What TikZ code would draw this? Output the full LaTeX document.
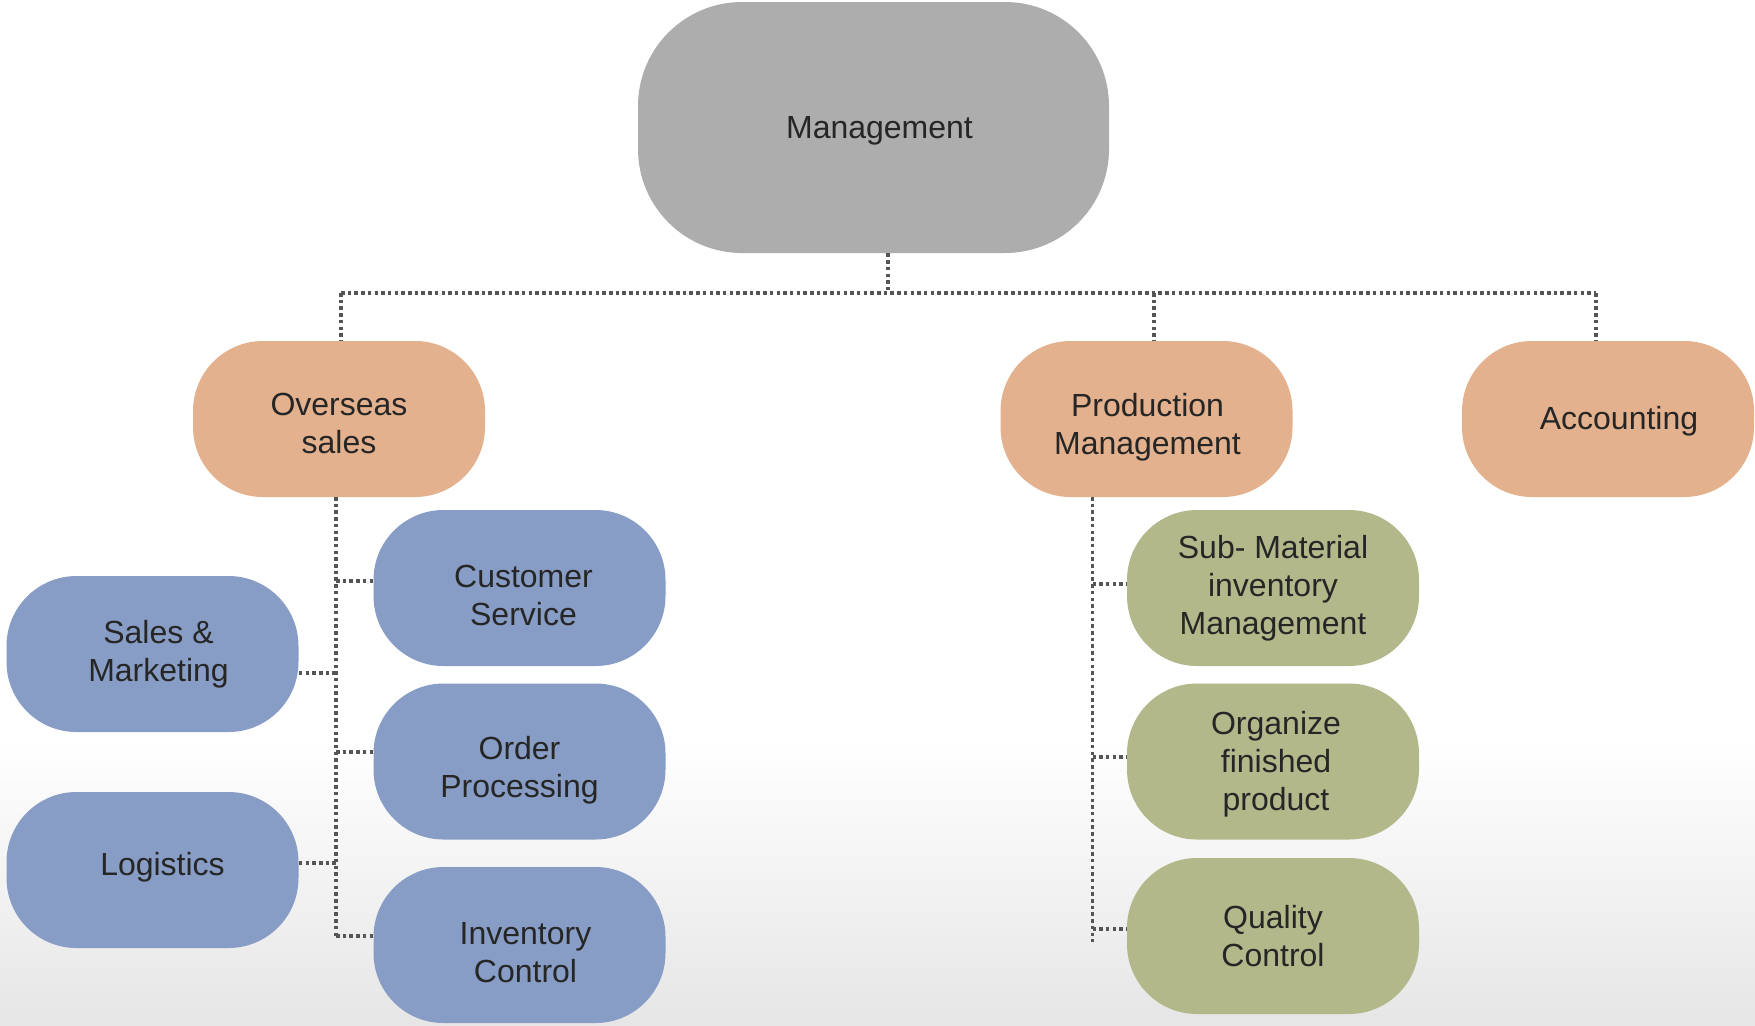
\documentclass[tikz,border=0pt]{standalone}
\usepackage{fontspec}
\setmainfont{Liberation Sans}
\begin{document}
\begin{tikzpicture}[x=0.5pt,y=-0.5pt,
  box/.style={rectangle, rounded corners=35pt, minimum width=146pt, minimum height=78pt, inner sep=0pt},
  lbl/.style={align=center, inner sep=0pt, text=txt, font=\fontsize{16}{19}\selectfont},
  grayb/.style={box, fill=mgray, rounded corners=52pt, minimum width=235.5pt, minimum height=125.5pt},
  orb/.style={box, fill=morange},
  blb/.style={box, fill=mblue},
  grb/.style={box, fill=mgreen},
  conn/.style={draw=lgray, line width=1.75pt, dash pattern=on 1.75pt off 1.6pt}
]
\definecolor{mgray}{HTML}{ADADAD}
\definecolor{morange}{HTML}{E3B18D}
\definecolor{mblue}{HTML}{889DC5}
\definecolor{mgreen}{HTML}{B3B88B}
\definecolor{txt}{HTML}{262626}
\definecolor{lgray}{HTML}{555555}
% background
\fill[white] (0,0) rectangle (1755,1025);
\shade[top color=white, bottom color=black!10] (0,740) rectangle (1755,1025);
\useasboundingbox (0,0) rectangle (1755,1025);

% boxes
\node[grayb] (mgmt) at (873.5,127.5) {};
\node[orb] (os) at (339,419) {};
\node[orb] (pm) at (1146.5,419) {};
\node[orb] (acc) at (1608,419) {};
\node[blb] (cs) at (519.5,588) {};
\node[blb] (op) at (519.5,761.5) {};
\node[blb] (ic) at (519.5,945) {};
\node[blb] (sm) at (152.5,654) {};
\node[blb] (lg) at (152.5,870) {};
\node[grb] (sub) at (1273,588) {};
\node[grb] (org) at (1273,761.5) {};
\node[grb] (qc) at (1273,936) {};

% labels
\node[lbl] (mgmt-t) at ([shift={(6,3)}]mgmt.center) {Management};
\node[lbl] (os-t) at ([shift={(0,4)}]os.center) {Overseas\\sales};
\node[lbl] (pm-t) at ([shift={(1,8)}]pm.center) {Production\\Management};
\node[lbl] (acc-t) at ([shift={(11,2)}]acc.center) {Accounting};
\node[lbl] (cs-t) at ([shift={(4,7)}]cs.center) {Customer\\Service};
\node[lbl] (op-t) at ([shift={(0,9)}]op.center) {Order\\Processing};
\node[lbl] (ic-t) at ([shift={(6,8)}]ic.center) {Inventory\\Control};
\node[lbl] (sm-t) at ([shift={(6,0)}]sm.center) {Sales \&\\Marketing};
\node[lbl] (lg-t) at ([shift={(10,-3)}]lg.center) {Logistics};
\node[lbl] (sub-t) at (sub.center) {Sub- Material\\inventory\\Management};
\node[lbl] (org-t) at ([shift={(3,3)}]org.center) {Organize\\finished\\product};
\node[lbl] (qc-t) at (qc.center) {Quality\\Control};

% top bus
\coordinate (busM) at (888,293);
\coordinate (busL) at (341,293);
\coordinate (busP) at (1154,293);
\coordinate (busR) at (1596,293);
\draw[conn] (busM |- mgmt.south) -- (busM);
\draw[conn] (busL) -- (busR);
\draw[conn] (busL) -- (busL |- os.north);
\draw[conn] (busP) -- (busP |- pm.north);
\draw[conn] (busR) -- (busR |- acc.north);

% overseas spine
\coordinate (osS) at (336,497);
\coordinate (osE) at (336,936);
\draw[conn] (osS) -- (osE);
\draw[conn] (osS |- 0,581) -- (cs.west |- 0,581);
\draw[conn] (sm.east |- 0,673) -- (osS |- 0,673);
\draw[conn] (osS |- 0,752) -- (op.west |- 0,752);
\draw[conn] (lg.east |- 0,863) -- (osS |- 0,863);
\draw[conn] (osE) -- (ic.west |- osE);

% production spine
\coordinate (pmS) at (1092.5,497);
\coordinate (pmE) at (1092.5,942);
\draw[conn] (pmS) -- (pmE);
\draw[conn] (pmS |- 0,584) -- (sub.west |- 0,584);
\draw[conn] (pmS |- 0,757) -- (org.west |- 0,757);
\draw[conn] (pmS |- 0,929) -- (qc.west |- 0,929);
\end{tikzpicture}
\end{document}
